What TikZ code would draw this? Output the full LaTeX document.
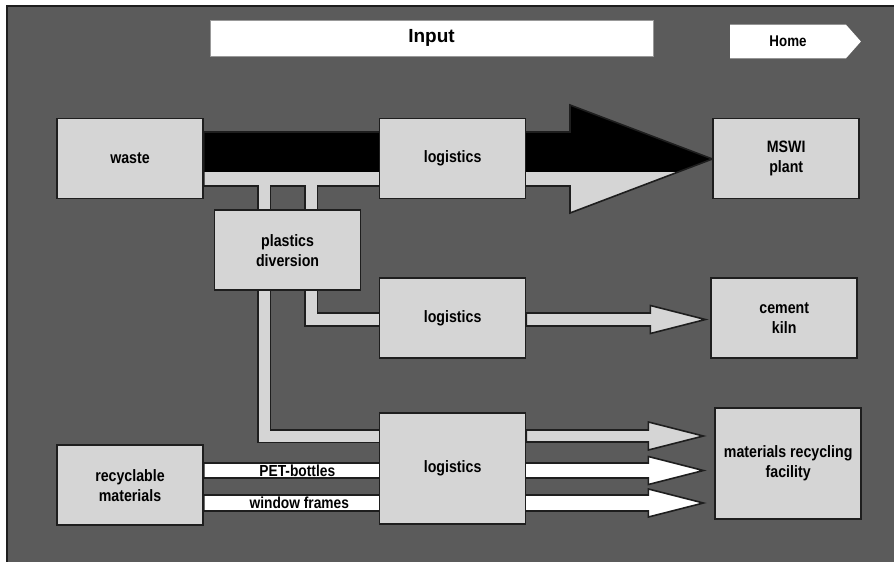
\documentclass[tikz,border=0pt]{standalone}
\usepackage{fontspec}
\setmainfont{Liberation Sans}
\newfontfamily\narrowsans[FakeStretch=0.86]{Liberation Sans}
\usepackage{tikz}
\usetikzlibrary{positioning,calc}
\definecolor{panel}{HTML}{5B5B5B}
\definecolor{boxfill}{HTML}{D5D5D5}
\definecolor{edge}{HTML}{1E1E1E}
\pgfdeclarelayer{back}
\pgfdeclarelayer{flow}
\pgfsetlayers{back,flow,main}
\tikzset{
    %Define style for boxes
    stage/.style={
           rectangle,
           draw=edge, line width=1.6pt,
           minimum width=146pt,
           minimum height=80pt,
           font=\narrowsans\bfseries\fontsize{16.5}{20}\selectfont,
           align=center,
           fill=boxfill},
    tallstage/.style={stage, minimum height=111pt},
    %Define style for the white boxes on top
    header/.style={
           rectangle,
           draw=black!40, line width=0.8pt,
           fill=white,
           inner sep=0pt},
    % Define style for the flat arrows and pipes
    flow/.style={draw=edge, line width=1.6pt},
    pipe/.style={draw=edge, line width=1.6pt, double=boxfill, double distance=11pt},
    lane/.style={font=\narrowsans\bfseries\fontsize{16}{18}\selectfont, inner sep=0pt}
}
% flat arrow: style, start, tip, half shaft width
\newcommand{\flowarrow}[4]{%
  \draw[flow,#1] let \p1=(#2), \p2=(#3) in
    ({\x1},{\y1+#4}) -- ({\x2-55pt},{\y1+#4}) -- ({\x2-55pt},{\y1+14pt}) -- ({\x2},{\y1})
    -- ({\x2-55pt},{\y1-14pt}) -- ({\x2-55pt},{\y1-#4}) -- ({\x1},{\y1-#4}) -- cycle;}

\begin{document}
\begin{tikzpicture}[x=1pt,y=-1pt]
\useasboundingbox (0,0) rectangle (894,562);
\node[stage](W) at (130,158.5){waste};
\node[stage, right=175pt of W](L1){logistics};
\node[stage, right=186pt of L1](M){MSWI\\plant};
\node[stage, below right=10pt and 10pt of W](P){plastics\\diversion};
\node[stage, below=78pt of L1](L2){logistics};
\node[stage, right=184pt of L2](K){cement\\kiln};
\node[tallstage, below=53pt of L2](L3){logistics};
\node[stage, below=245pt of W](R){recyclable\\materials};
\node[tallstage, right=188pt of L3, yshift=5pt](F){materials recycling\\facility};
\node[header, minimum width=443pt, minimum height=36pt, font=\bfseries\fontsize{19}{22}\selectfont](I) at (431.5,38){Input};
\node[header, draw=none, fill=none, minimum width=115pt, minimum height=33pt, font=\narrowsans\bfseries\fontsize{15.5}{18}\selectfont](H) at (788,41.5){Home};
\node[lane, xshift=6pt](PB) at ($(R.east |- 0,471)!0.5!(L3.west |- 0,471)$){PET-bottles};
\node[lane, xshift=8pt](WF) at ($(R.east |- 0,503)!0.5!(L3.west |- 0,503)$){window frames};

\begin{pgfonlayer}{back}
\fill[white] (0,0) rectangle (894,562);
\fill[panel] (7,6) rectangle (894,562);
\draw[edge, line width=1.2pt] (7,562) -- (7,6) -- (894,6);
\fill[white] (H.north west) -- (H.north east) -- ($(H.east)+(15,0)$) -- (H.south east) -- (H.south west) -- cycle;
\end{pgfonlayer}

\begin{pgfonlayer}{flow}
\def\mainflow{(W.east |- 0,132) -- (570,132) -- (570,105) -- (M.west |- 0,159) -- (570,213) -- (570,186) -- (W.east |- 0,186) -- cycle}
\fill[black] \mainflow;
\begin{scope}
\clip \mainflow;
\fill[boxfill] (0,172) rectangle (894,230);
\end{scope}
\draw[flow] \mainflow;
\draw[pipe] (264,185) -- (P.north -| 264,0);
\draw[pipe] (311,185) -- (P.north -| 311,0);
\draw[pipe] (P.south -| 264,0) |- (L3.west |- 0,436);
\draw[pipe] (P.south -| 311,0) |- (L2.west |- 0,319.5);
\flowarrow{fill=boxfill}{L2.east |- 0,319.5}{$(K.west |- 0,319.5)+(-5,0)$}{6.5pt}
\flowarrow{fill=boxfill}{L3.east |- 0,436}{$(F.west |- 0,436)+(-11,0)$}{6pt}
\flowarrow{fill=white}{R.east |- 0,470.5}{$(F.west |- 0,470.5)+(-11,0)$}{7.5pt}
\flowarrow{fill=white}{R.east |- 0,503}{$(F.west |- 0,503)+(-11,0)$}{8pt}
\end{pgfonlayer}
\end{tikzpicture}
\end{document}
